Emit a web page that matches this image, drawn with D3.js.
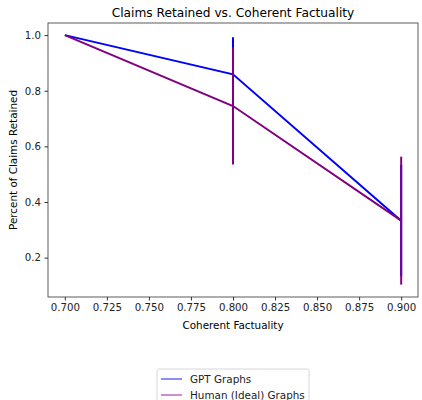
<!DOCTYPE html>
<html>
<head>
<meta charset="utf-8">
<script src="https://cdn.jsdelivr.net/npm/d3@7"></script>
<style>
  body { margin: 0; background: #fff; }
  svg { font-family: "DejaVu Sans", sans-serif; }
</style>
</head>
<body>
<svg id="chart"></svg>
<script>
// valori
var xValues = [0.7, 0.8, 0.9];
var gptValues = [1.0, 0.859, 0.333];
var gptErrors = [0, 0.133, 0.2];
var humanValues = [1.0, 0.745, 0.333];
var humanErrors = [0, 0.21, 0.23];
var seriesNames = ['GPT Graphs', 'Human (Ideal) Graphs'];
var xTicks = [0.700, 0.725, 0.750, 0.775, 0.800, 0.825, 0.850, 0.875, 0.900];
var yTicks = [0.2, 0.4, 0.6, 0.8, 1.0];

var W = 422, H = 400;
var margin = {top: 23, right: 4, bottom: 103, left: 48};
var width = W - margin.left - margin.right;
var height = H - margin.top - margin.bottom;

var svg = d3.select('#chart').attr('width', W).attr('height', H);
var g = svg.append('g').attr('transform', 'translate(' + margin.left + ',' + margin.top + ')');

var x = d3.scaleLinear().domain([0.69, 0.91]).range([0, width]);
var y = d3.scaleLinear().domain([0.0585, 1.0435]).range([height, 0]);

var series = [
  {name: seriesNames[0], values: gptValues, errors: gptErrors, color: 'blue', legendColor: '#4040ff'},
  {name: seriesNames[1], values: humanValues, errors: humanErrors, color: 'purple', legendColor: '#b040b8'}
];

var line = d3.line()
  .x(function(d) { return x(d.x); })
  .y(function(d) { return y(d.y); });

series.forEach(function(s) {
  var pts = xValues.map(function(v, i) { return {x: v, y: s.values[i], e: s.errors[i]}; });
  g.append('path')
    .datum(pts)
    .attr('fill', 'none')
    .attr('stroke', s.color)
    .attr('stroke-width', 2)
    .attr('d', line);
  g.selectAll(null)
    .data(pts.filter(function(d) { return d.e > 0; }))
    .enter().append('line')
    .attr('x1', function(d) { return x(d.x); })
    .attr('x2', function(d) { return x(d.x); })
    .attr('y1', function(d) { return y(d.y - d.e); })
    .attr('y2', function(d) { return y(d.y + d.e); })
    .attr('stroke', s.color)
    .attr('stroke-width', 2);
});

// axele
var xAxis = g.append('g')
  .attr('transform', 'translate(0,' + height + ')')
  .call(d3.axisBottom(x).tickValues(xTicks).tickFormat(d3.format('.3f')).tickSize(3.5).tickPadding(3.5));
var yAxis = g.append('g')
  .call(d3.axisLeft(y).tickValues(yTicks).tickFormat(d3.format('.1f')).tickSize(3.5).tickPadding(3.5));
[xAxis, yAxis].forEach(function(a) {
  a.select('.domain').remove();
  a.selectAll('text').attr('font-size', 10.2).attr('fill', '#222').attr('font-family', '"DejaVu Sans", sans-serif');
  a.selectAll('line').attr('stroke', '#333');
});

g.append('rect')
  .attr('width', width).attr('height', height)
  .attr('fill', 'none').attr('stroke', '#333').attr('stroke-width', 0.8);

// titluri
svg.append('text')
  .attr('x', margin.left + width / 2).attr('y', 17)
  .attr('text-anchor', 'middle').attr('font-size', 12.2)
  .text('Claims Retained vs. Coherent Factuality');
svg.append('text')
  .attr('x', margin.left + width / 2).attr('y', 329)
  .attr('text-anchor', 'middle').attr('font-size', 10.4)
  .text('Coherent Factuality');
svg.append('text')
  .attr('transform', 'translate(17,' + (margin.top + height / 2) + ') rotate(-90)')
  .attr('text-anchor', 'middle').attr('font-size', 10.4)
  .text('Percent of Claims Retained');

// legenda
var legend = svg.append('g').attr('transform', 'translate(157,369)');
legend.append('rect')
  .attr('width', 152).attr('height', 40).attr('rx', 2)
  .attr('fill', '#fff').attr('stroke', '#ccc').attr('stroke-width', 0.8);
series.forEach(function(s, i) {
  var yy = 10 + i * 16;
  legend.append('line')
    .attr('x1', 4).attr('x2', 25).attr('y1', yy).attr('y2', yy)
    .attr('stroke', s.legendColor).attr('stroke-width', 1.2);
  legend.append('text')
    .attr('x', 33).attr('y', yy + 3.6).attr('font-size', 10.4).attr('fill', '#222')
    .text(s.name);
});
</script>
</body>
</html>
